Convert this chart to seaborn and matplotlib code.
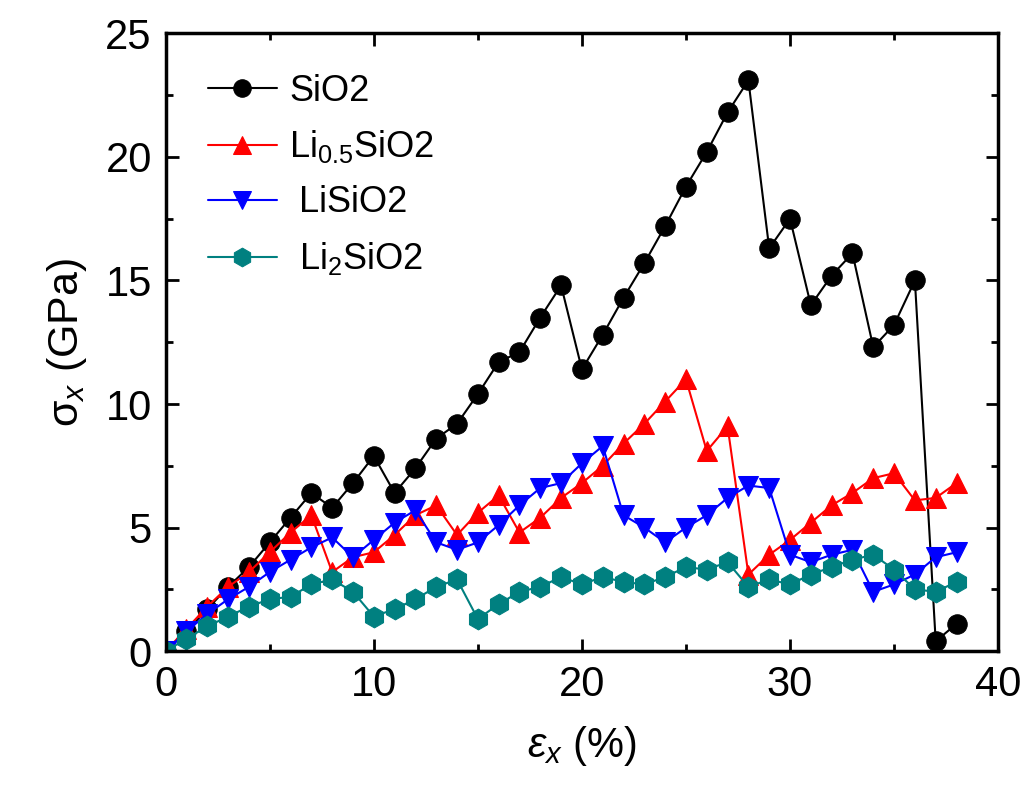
import numpy as np
import pandas as pd
import matplotlib
matplotlib.use("Agg")
import matplotlib.pyplot as plt
import seaborn as sns

strain = list(range(0, 39))

sio2 = [0.0, 0.8, 1.7, 2.6, 3.4, 4.4, 5.4, 6.4, 5.8, 6.8, 7.9, 6.4, 7.4, 8.6, 9.2,
        10.4, 11.7, 12.1, 13.5, 14.8, 11.4, 12.8, 14.3, 15.7, 17.2, 18.8, 20.2,
        21.8, 23.1, 16.3, 17.5, 14.0, 15.2, 16.1, 12.3, 13.2, 15.0, 0.4, 1.1]
li05 = [0.0, 0.9, 1.8, 2.6, 3.2, 4.0, 4.8, 5.5, 3.2, 3.8, 4.0, 4.7, 5.5, 5.9, 4.7,
        5.6, 6.3, 4.8, 5.4, 6.2, 6.8, 7.5, 8.4, 9.2, 10.1, 11.0, 8.1, 9.1,
        3.1, 3.9, 4.5, 5.2, 5.9, 6.4, 7.0, 7.2, 6.1, 6.2, 6.8]
li1 = [0.0, 0.8, 1.5, 2.1, 2.6, 3.2, 3.7, 4.2, 4.6, 3.8, 4.5, 5.2, 5.7, 4.4, 4.1,
       4.4, 5.1, 5.9, 6.6, 6.8, 7.6, 8.3, 5.5, 5.0, 4.4, 5.0, 5.5, 6.2,
       6.7, 6.6, 3.9, 3.6, 3.9, 4.1, 2.4, 2.7, 3.1, 3.8, 4.0]
li2 = [0.0, 0.5, 1.0, 1.4, 1.8, 2.1, 2.2, 2.7, 2.9, 2.4, 1.4, 1.7, 2.1, 2.6, 2.9,
       1.3, 1.9, 2.4, 2.6, 3.0, 2.7, 3.0, 2.8, 2.7, 3.0, 3.4, 3.3, 3.6,
       2.6, 2.9, 2.7, 3.1, 3.4, 3.7, 3.9, 3.3, 2.5, 2.4, 2.8]

labels = ["SiO2", r"Li$_{0.5}$SiO2", " LiSiO2", r" Li$_{2}$SiO2"]
colors = ["#000000", "#FF0000", "#0000FF", "#008080"]
markers = ["o", "^", "v", "h"]
sizes = [14, 15, 15, 15]

sns.set_theme(style="ticks")
plt.rcParams["font.family"] = ["Liberation Sans", "DejaVu Sans"]
plt.rcParams["mathtext.fontset"] = "custom"
plt.rcParams["mathtext.rm"] = "Liberation Sans"
plt.rcParams["mathtext.it"] = "Liberation Sans:italic"
plt.rcParams["mathtext.sf"] = "Liberation Sans"
for k in ["text.color", "axes.labelcolor", "xtick.color", "ytick.color", "axes.edgecolor"]:
    plt.rcParams[k] = "black"

fig = plt.figure(figsize=(10.29, 7.95), dpi=100)
ax = fig.add_axes([0.161, 0.181, 0.809, 0.777])

series = [sio2, li05, li1, li2]
for vals, lab, c, m, s in zip(series, labels, colors, markers, sizes):
    df = pd.DataFrame({"strain": strain, "stress": vals})
    sns.lineplot(data=df, x="strain", y="stress", ax=ax, color=c, marker=m,
                 markersize=s, markeredgecolor=c, markerfacecolor=c,
                 linewidth=1.5, label=lab)

ax.set_xlim(0, 40)
ax.set_ylim(0, 25)
ax.set_xticks([0, 10, 20, 30, 40])
ax.set_yticks([0, 5, 10, 15, 20, 25])
ax.set_xticks([5, 15, 25, 35], minor=True)
ax.set_yticks(np.arange(2.5, 25, 5), minor=True)
ax.tick_params(which="both", direction="in", top=True, right=True, width=2, labelsize=30,
               pad=10, color="black", labelcolor="black")
ax.tick_params(which="major", length=9)
ax.tick_params(which="minor", length=5)
for sp in ax.spines.values():
    sp.set_linewidth(2.5)
    sp.set_color("black")

ax.set_xlabel(r"$\varepsilon_{x}$ (%)", fontsize=30, labelpad=14)
ax.set_ylabel(r"σ$_{x}$ (GPa)", fontsize=31, labelpad=12)

leg = ax.legend(loc="upper left", bbox_to_anchor=(0.025, 0.97), frameon=False,
                fontsize=26, handlelength=1.9, handletextpad=0.35,
                labelspacing=0.55, markerscale=0.9, borderaxespad=0.2)
for t in leg.get_texts():
    t.set_color("black")

fig.savefig("out.png", dpi=100)
